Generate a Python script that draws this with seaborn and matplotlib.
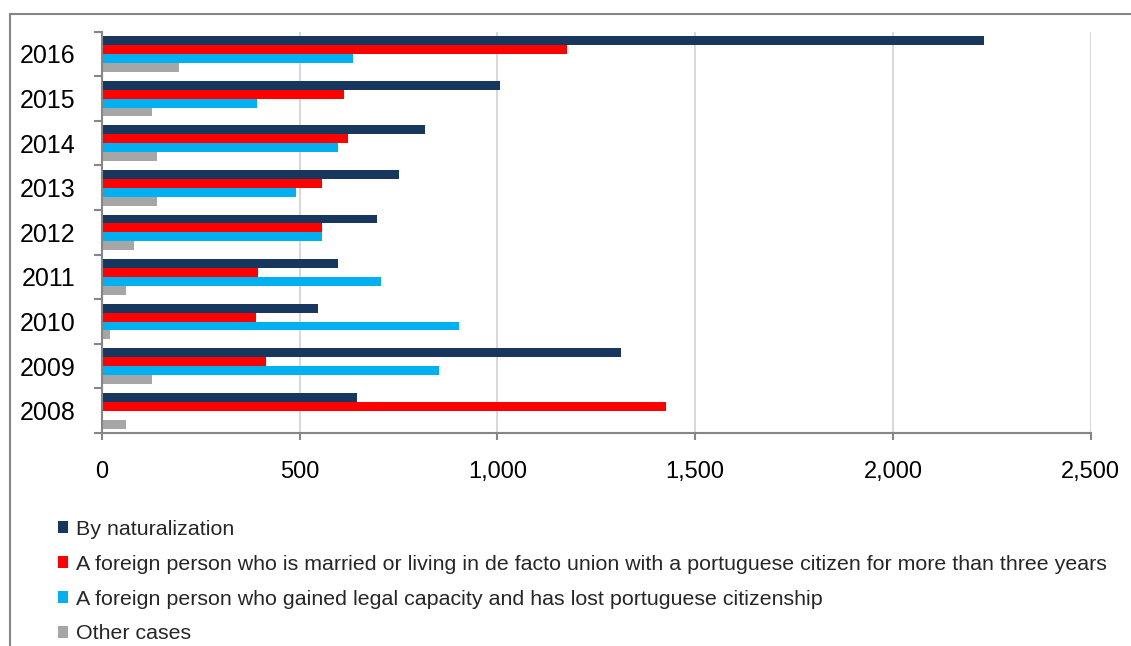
import numpy as np
import pandas as pd
import matplotlib
matplotlib.use("Agg")
import matplotlib.pyplot as plt
import seaborn as sns
from matplotlib.lines import Line2D
from matplotlib.ticker import FixedLocator, FuncFormatter, MultipleLocator

# ---- data ----
years = ["2016", "2015", "2014", "2013", "2012", "2011", "2010", "2009", "2008"]
naturalization = [2231, 1007, 817, 752, 696, 597, 546, 1312, 646]
married = [1176, 612, 622, 556, 556, 396, 391, 416, 1427]
legal_capacity = [636, 392, 597, 491, 556, 706, 902, 852, 3]
other_cases = [196, 126, 141, 141, 81, 61, 21, 126, 61]
series_names = [
    "By naturalization",
    "A foreign person who is married or living in de facto union with a portuguese citizen for more than three years",
    "A foreign person who gained legal capacity and has lost portuguese citizenship",
    "Other cases",
]
colors = ["#17375E", "#FF0000", "#00B0F0", "#A6A6A6"]

rows = []
for name, vals in zip(series_names, [naturalization, married, legal_capacity, other_cases]):
    for y, v in zip(years, vals):
        rows.append({"Year": y, "Value": v, "Series": name})
df = pd.DataFrame(rows)

sns.set_style("white")
plt.rcParams["font.family"] = ["Liberation Sans", "DejaVu Sans"]

W, H = 1131, 646
fig = plt.figure(figsize=(W / 100, H / 100), dpi=100)
ax = fig.add_axes([101.7 / W, 1 - 433 / H, (1090.7 - 101.7) / W, (433 - 31.7) / H])

sns.barplot(data=df, y="Year", x="Value", hue="Series", order=years,
            hue_order=series_names, palette=colors, orient="h", ax=ax,
            linewidth=0, saturation=1)

handles, labels = ax.get_legend_handles_labels()
if ax.get_legend() is not None:
    ax.get_legend().remove()

ax.set_xlim(0, 2500)
ax.set_xlabel("")
ax.set_ylabel("")
ax.xaxis.set_major_locator(MultipleLocator(500))
ax.xaxis.set_major_formatter(FuncFormatter(lambda v, p: f"{v:,.0f}"))
ax.set_axisbelow(True)
ax.grid(axis="x", color="#D9D9D9", linewidth=1.5)
ax.grid(axis="y", visible=False)

for s in ["top", "right"]:
    ax.spines[s].set_visible(False)
for s in ["left", "bottom"]:
    ax.spines[s].set_color("#868686")
    ax.spines[s].set_linewidth(1.5)

ax.yaxis.set_minor_locator(FixedLocator(np.arange(-0.5, len(years), 1.0)))
ax.tick_params(axis="y", which="minor", length=5.8, width=1.5, color="#868686", left=True)
ax.tick_params(axis="y", which="major", length=0, pad=19, labelsize=18, colors="black")
ax.tick_params(axis="x", which="major", length=5, width=1.5, color="#868686",
               bottom=True, pad=15, labelsize=17, labelcolor="black")

fig.legend(handles, labels, loc="upper left", bbox_to_anchor=(58 / W, 1 - 520 / H),
           bbox_transform=fig.transFigure, frameon=False, fontsize=15.4,
           handlelength=0.48, handleheight=0.48, handletextpad=0.37,
           labelspacing=0.74, borderpad=0, borderaxespad=0)

# outer chart frame (top and left edges visible)
fig.add_artist(Line2D([10 / W, 1], [1 - 14 / H, 1 - 14 / H], transform=fig.transFigure,
                      color="#868686", linewidth=1.5))
fig.add_artist(Line2D([10 / W, 10 / W], [0, 1 - 14 / H], transform=fig.transFigure,
                      color="#868686", linewidth=1.5))

fig.savefig("out.png", dpi=100)
